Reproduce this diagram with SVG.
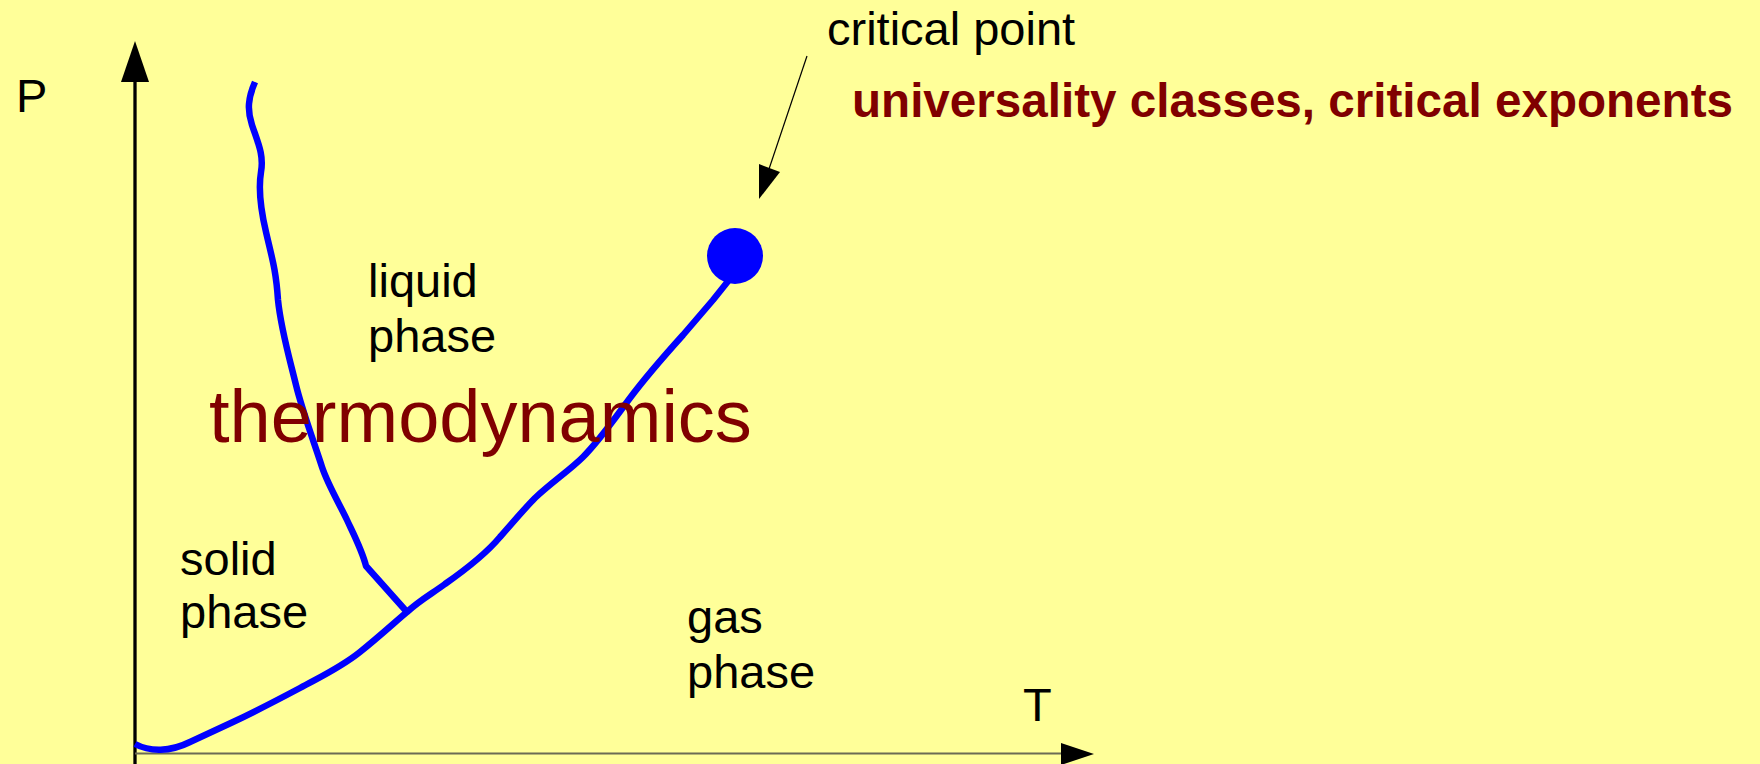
<svg xmlns="http://www.w3.org/2000/svg" width="1760" height="764" viewBox="0 0 1760 764">
<style>
.lbl{font-family:"Liberation Sans",Arial,sans-serif;font-size:47px;fill:#000}
.red{font-family:"Liberation Sans",Arial,sans-serif;fill:#800000}
.curve{fill:none;stroke:#0000ff;stroke-width:6.5;stroke-linejoin:round;stroke-linecap:butt}
</style>
<rect x="0" y="0" width="1760" height="764" fill="#ffff99"/>
<g id="axes">
<line x1="135" y1="80" x2="135" y2="764" stroke="#000" stroke-width="3.3"/>
<polygon points="121,82 135,41 149,82" fill="#000"/>
<line x1="135" y1="753.5" x2="1062" y2="753.5" stroke="#6b6b55" stroke-width="2"/>
<polygon points="1061,743 1094,754 1061,765" fill="#000"/>
<text class="lbl" x="16" y="112">P</text>
<text class="lbl" x="1023" y="721">T</text>
</g>
<g id="connectors">
<path id="melting" class="curve" d="M255,82 C248,98 247,110 252,125 C258,143 264,155 261,172 C258,190 262,215 266,232 C272,258 276,270 278,300 C281,330 290,360 296,385 C302,410 315,445 322,467 C328,485 340,505 347,520 C353,533 362,550 366,566 L407,612"/>
<path id="vaporization" class="curve" d="M135,744 C150,752 170,752 190,742 C205,735 220,728 233,722 C250,714 268,705 300,688 C320,677 340,668 360,652 C380,636 395,622 407,612 C420,600 433,593 445,584 C465,570 485,555 500,537 C515,520 525,508 535,498 C552,482 570,470 583,457 C600,440 615,418 630,398 C645,378 665,355 683,335 L713,300 L733,275"/>
<line x1="807" y1="56" x2="768" y2="172" stroke="#000" stroke-width="1.2"/>
<polygon points="759,164 780,172 759,199" fill="#000"/>
</g>
<g id="critical-point">
<circle cx="735" cy="256" r="28" fill="#0000ff"/>
<text class="lbl" x="827" y="45">critical point</text>
<text class="red" x="852" y="117" font-size="47.5" font-weight="bold" textLength="881" lengthAdjust="spacingAndGlyphs">universality classes, critical exponents</text>
</g>
<g id="liquid">
<text class="lbl" x="368" y="297">liquid</text>
<text class="lbl" x="368" y="352">phase</text>
</g>
<g id="solid">
<text class="lbl" x="180" y="575">solid</text>
<text class="lbl" x="180" y="628">phase</text>
</g>
<g id="gas">
<text class="lbl" x="687" y="633">gas</text>
<text class="lbl" x="687" y="688">phase</text>
</g>
<g id="thermodynamics">
<text class="red" x="209" y="442" font-size="74">thermodynamics</text>
</g>
</svg>
